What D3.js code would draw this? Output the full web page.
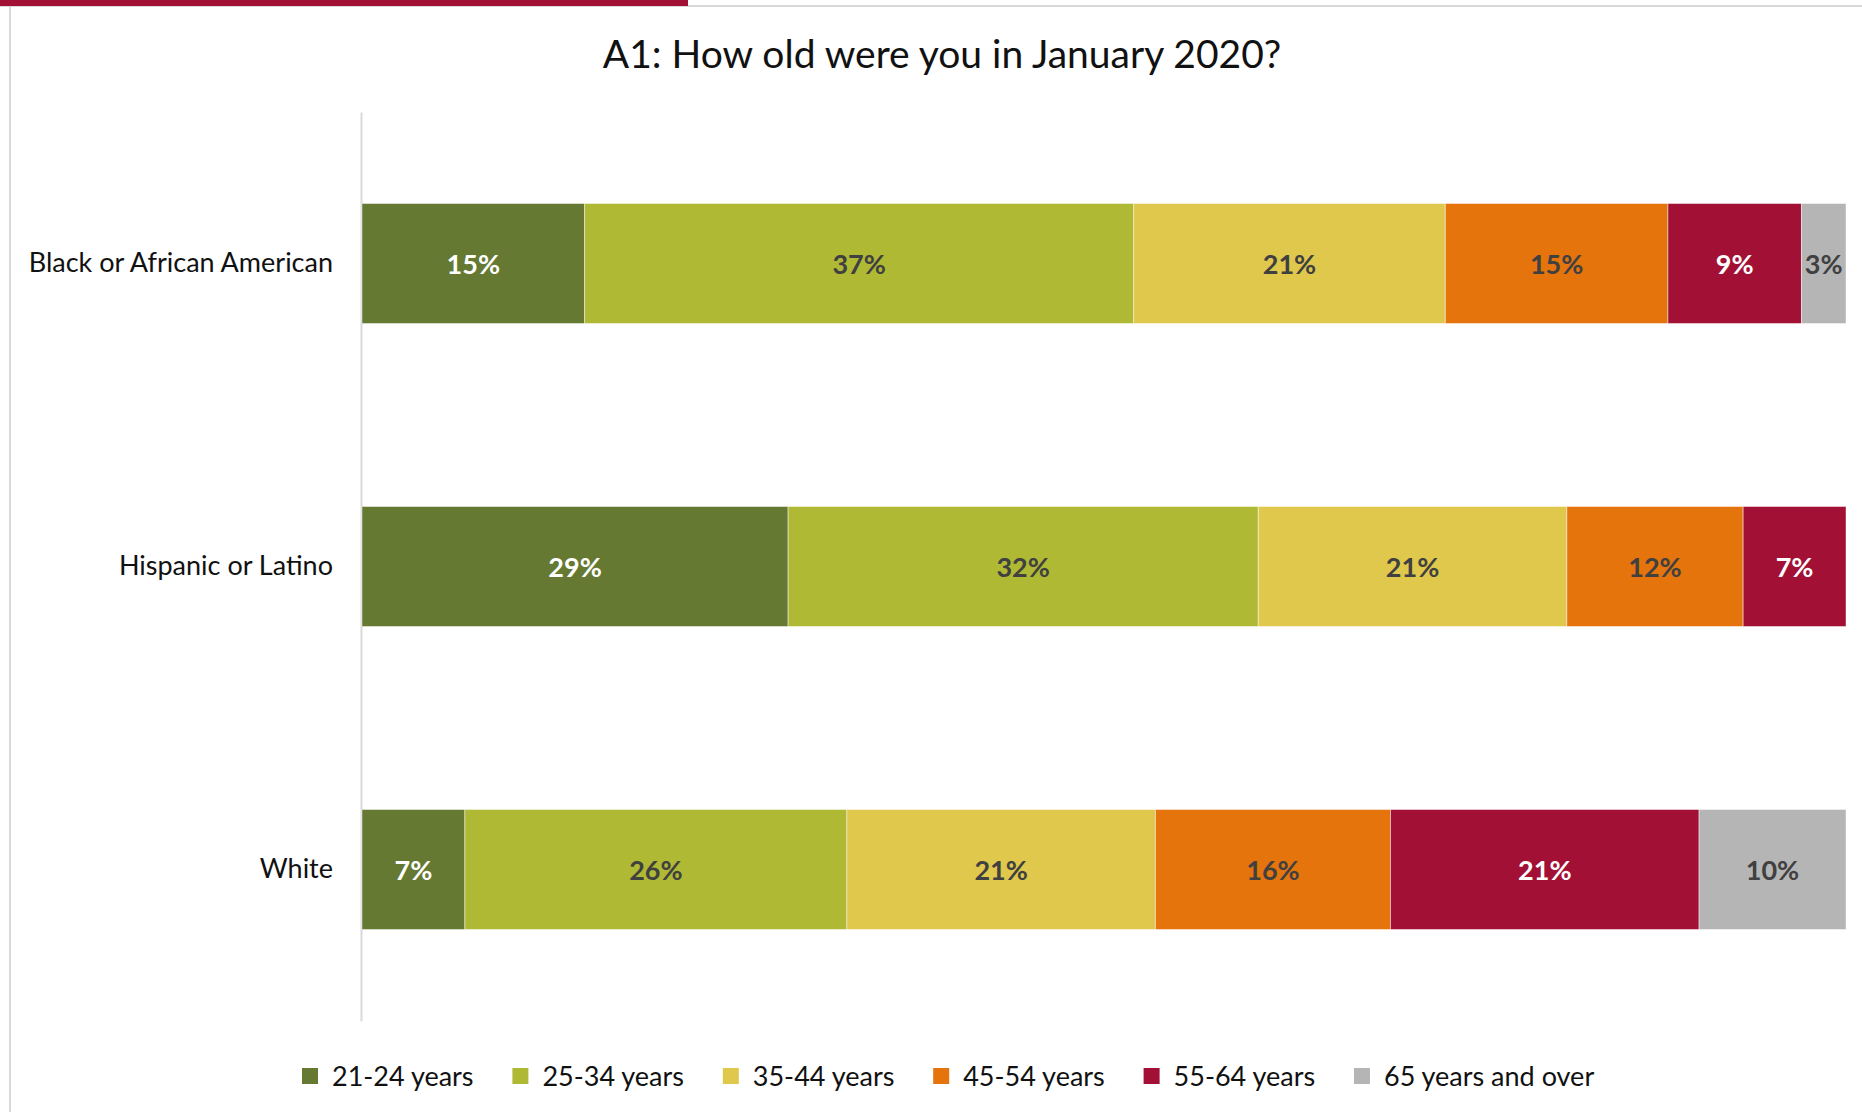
<!DOCTYPE html>
<html>
<head>
<meta charset="utf-8">
<script src="https://cdn.jsdelivr.net/npm/d3@7"></script>
<style>
  html, body { margin: 0; padding: 0; background: #fff; }
  svg { display: block; }
  text { font-family: Lato, "Open Sans", sans-serif; }
</style>
</head>
<body>
<svg id="chart" width="1862" height="1112"></svg>
<script>
// Survey groups (rows) and age brackets (stacked segments)
const categories = ["Black or African American", "Hispanic or Latino", "White"];
const ageGroups = ["21-24 years", "25-34 years", "35-44 years", "45-54 years", "55-64 years", "65 years and over"];

// Percent of respondents in each age bracket, one array per group
const blackValues    = [15, 37, 21, 15, 9, 3];
const hispanicValues = [29, 32, 21, 12, 7, 0];
const whiteValues    = [7, 26, 21, 16, 21, 10];

const colors = ["#657932", "#b0b934", "#dfc84c", "#e5740d", "#a31035", "#b5b5b5"];
const labelColors = ["#ffffff", "#404040", "#404040", "#404040", "#ffffff", "#404040"];

const title = "A1: How old were you in January 2020?";

const rows = [blackValues, hispanicValues, whiteValues].map((vals, i) => {
  const row = { category: categories[i] };
  const total = d3.sum(vals);
  ageGroups.forEach((g, j) => { row[g] = vals[j] / total; row["_" + g] = vals[j]; });
  return row;
});

const svg = d3.select("#chart");

// frame: accent strip, top rule and left rule
svg.append("rect").attr("x", 0).attr("y", 5).attr("width", 1862).attr("height", 2).attr("fill", "#d9d9d9");
svg.append("rect").attr("x", 0).attr("y", 0).attr("width", 688).attr("height", 6).attr("fill", "#a31035");
svg.append("rect").attr("x", 9).attr("y", 7).attr("width", 2).attr("height", 1105).attr("fill", "#d9d9d9");

const x = d3.scaleLinear().domain([0, 1]).range([362, 1846]);
const y = d3.scaleBand().domain(categories).range([112, 1021]).paddingInner(0.604).paddingOuter(0.302);

svg.append("text")
  .attr("x", 942).attr("y", 68)
  .attr("text-anchor", "middle")
  .attr("font-size", 39)
  .attr("fill", "#111")
  .text(title);

// category axis
const yAxis = svg.append("g").attr("transform", "translate(361,0)")
  .call(d3.axisLeft(y).tickSize(0).tickPadding(28));
yAxis.select(".domain").attr("stroke", "#d9d9d9").attr("stroke-width", 2);
yAxis.selectAll("text").attr("font-size", 27).attr("fill", "#111")
  .attr("font-family", "Lato, 'Open Sans', sans-serif");

const stack = d3.stack().keys(ageGroups);
const series = stack(rows);

const layers = svg.append("g").selectAll("g").data(series).join("g")
  .attr("fill", (d, i) => colors[i]);

layers.selectAll("rect")
  .data(d => d.filter(p => p[1] - p[0] > 0))
  .join("rect")
  .attr("x", p => x(p[0]))
  .attr("y", p => y(p.data.category))
  .attr("width", p => x(p[1]) - x(p[0]))
  .attr("height", y.bandwidth())
  .attr("stroke", "rgba(255,255,255,0.45)")
  .attr("stroke-width", 1);

layers.each(function (s, i) {
  d3.select(this).selectAll("text")
    .data(s.filter(p => p[1] - p[0] > 0))
    .join("text")
    .attr("x", p => (x(p[0]) + x(p[1])) / 2)
    .attr("y", p => y(p.data.category) + y.bandwidth() / 2)
    .attr("text-anchor", "middle")
    .attr("dominant-baseline", "central")
    .attr("font-size", 27)
    .attr("font-weight", "bold")
    .attr("fill", labelColors[i])
    .text(p => p.data["_" + s.key] + "%");
});

// legend
const lx = d3.scalePoint().domain(ageGroups).range([302, 1354]);
const legend = svg.append("g").selectAll("g").data(ageGroups).join("g")
  .attr("transform", d => `translate(${lx(d)},1075)`);
legend.append("rect").attr("x", 0).attr("y", -7).attr("width", 16).attr("height", 16)
  .attr("fill", (d, i) => colors[i]);
legend.append("text").attr("x", 30).attr("y", 0)
  .attr("dominant-baseline", "central")
  .attr("font-size", 27).attr("fill", "#111")
  .text(d => d);
</script>
</body>
</html>
